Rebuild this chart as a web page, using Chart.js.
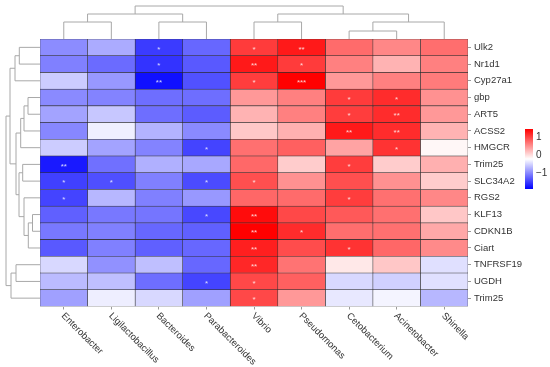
<!DOCTYPE html>
<html>
<head>
<meta charset="utf-8">
<script src="https://cdn.jsdelivr.net/npm/chart.js@4/dist/chart.umd.min.js"></script>
<style>
  html, body { margin: 0; padding: 0; background: #fff; }
  #wrap { width: 550px; height: 367px; position: relative; }
</style>
</head>
<body>
<div id="wrap"><canvas id="heatChart"></canvas></div>
<script>
// Heatmap of gene x genus correlations, with row / column dendrograms

const genes = ['Ulk2', 'Nr1d1', 'Cyp27a1', 'gbp', 'ART5', 'ACSS2', 'HMGCR', 'Trim25',
    'SLC34A2', 'RGS2', 'KLF13', 'CDKN1B', 'Ciart', 'TNFRSF19', 'UGDH', 'Trim25'];

const genera = ['Enterobacter', 'Ligilactobacillus', 'Bacteroides', 'Parabacteroides',
    'Vibrio', 'Pseudomonas', 'Cetobacterium', 'Acinetobacter', 'Shinella'];

// one row per gene, one value per genus
const corr = [
    [-0.94, -0.74, -1.46, -1.18, 1.06, 1.28, 0.75, 0.57, 0.73],
    [-1.02, -1.15, -1.51, -1.27, 1.28, 1.06, 0.62, 0.29, 0.62],
    [-0.53, -0.86, -1.74, -1.32, 1.05, 1.44, 0.46, 0.62, 0.65],
    [-0.95, -1.00, -1.13, -1.13, 0.46, 0.62, 1.06, 1.16, 0.51],
    [-0.79, -0.56, -1.13, -1.25, 0.29, 0.62, 1.05, 1.16, 0.46],
    [-0.97, -0.30, -0.69, -0.95, 0.16, 0.31, 1.28, 1.16, 0.29],
    [-0.53, -0.79, -1.00, -1.40, 0.72, 0.82, 0.39, 1.11, -0.15],
    [-1.68, -1.12, -0.71, -0.76, 0.77, 0.13, 1.05, 0.13, 0.31],
    [-1.43, -1.33, -1.02, -1.36, 0.93, 0.51, 0.93, 0.51, 0.13],
    [-1.40, -0.66, -1.02, -0.86, 0.78, 0.75, 1.05, 0.72, 0.57],
    [-1.22, -1.07, -1.09, -1.38, 1.36, 0.98, 0.87, 0.72, 0.16],
    [-1.07, -1.02, -1.18, -1.22, 1.44, 1.16, 0.73, 0.72, 0.36],
    [-1.27, -1.02, -1.22, -1.18, 1.24, 0.95, 1.11, 0.78, 0.55],
    [-0.45, -0.91, -0.61, -1.18, 1.19, 0.70, -0.05, 0.16, -0.40],
    [-0.64, -0.61, -1.13, -1.40, 0.98, 0.82, -0.45, -0.50, -0.40],
    [-0.81, -0.31, -0.45, -0.81, 0.98, 0.46, -0.35, -0.27, -0.66]
];

const stars = [
    ['', '', '*', '', '*', '**', '', '', ''],
    ['', '', '*', '', '**', '*', '', '', ''],
    ['', '', '**', '', '*', '***', '', '', ''],
    ['', '', '', '', '', '', '*', '*', ''],
    ['', '', '', '', '', '', '*', '**', ''],
    ['', '', '', '', '', '', '**', '**', ''],
    ['', '', '', '*', '', '', '', '*', ''],
    ['**', '', '', '', '', '', '*', '', ''],
    ['*', '*', '', '*', '*', '', '', '', ''],
    ['*', '', '', '', '', '', '*', '', ''],
    ['', '', '', '*', '**', '', '', '', ''],
    ['', '', '', '', '**', '*', '', '', ''],
    ['', '', '', '', '**', '', '*', '', ''],
    ['', '', '', '', '**', '', '', '', ''],
    ['', '', '', '*', '*', '', '', '', ''],
    ['', '', '', '', '*', '', '', '', '']
];

// colour range of the legend and its tick labels
const colorMin = -1.84;
const colorMax = 1.44;
const legendTicks = [1, 0, -1];

// hclust style merges: negative = leaf (1-based), positive = earlier merge; third = height
const colMerge = [
    [-7, -8, 8],
    [-1, -2, 17],
    [-3, -4, 17],
    [-5, -6, 17],
    [1, -9, 17],
    [2, 3, 25],
    [4, 5, 25],
    [6, 7, 33]
];

const rowMerge = [
    [-1, -2, 20.7],
    [1, -3, 25],
    [-4, -5, 12],
    [3, -6, 16],
    [4, -7, 19.3],
    [-8, -9, 17.3],
    [-11, -12, 7.5],
    [7, -13, 11.7],
    [-10, 8, 16],
    [6, 9, 21],
    [5, 10, 24],
    [2, 11, 30],
    [-14, -15, 24],
    [13, -16, 29],
    [12, 14, 34]
];

const labelFont = '9.5px "Liberation Sans", Arial, sans-serif';

function colorFor(v) {
    let t = (v - colorMin) / (colorMax - colorMin);
    t = Math.max(0, Math.min(1, t));
    if (t < 0.5) {
        const f = Math.round(255 * t / 0.5);
        return `rgb(${f}, ${f}, 255)`;
    }
    const f = Math.round(255 * (1 - (t - 0.5) / 0.5));
    return `rgb(255, ${f}, ${f})`;
}

function drawDendro(ctx, merges, leafPix, heightPix, horizontal) {
    const nodes = [];
    const get = (id) => id < 0 ? { pos: leafPix(-id - 1), h: 0 } : nodes[id - 1];
    const pt = (pos, h) => horizontal ? [pos, heightPix(h)] : [heightPix(h), pos];
    ctx.beginPath();
    merges.forEach(([a, b, h]) => {
        const na = get(a), nb = get(b);
        const p1 = pt(na.pos, na.h), p2 = pt(na.pos, h), p3 = pt(nb.pos, h), p4 = pt(nb.pos, nb.h);
        ctx.moveTo(p1[0], p1[1]);
        ctx.lineTo(p2[0], p2[1]);
        ctx.lineTo(p3[0], p3[1]);
        ctx.lineTo(p4[0], p4[1]);
        nodes.push({ pos: (na.pos + nb.pos) / 2, h: h });
    });
    ctx.stroke();
}

const heatExtras = {
    id: 'heatExtras',
    afterDatasetsDraw(chart) {
        const { ctx, chartArea, scales: { x, y } } = chart;
        ctx.save();

        // significance stars
        ctx.fillStyle = 'rgba(255, 255, 255, 0.8)';
        ctx.font = '8px "Liberation Sans", Arial, sans-serif';
        ctx.textAlign = 'center';
        ctx.textBaseline = 'middle';
        stars.forEach((row, r) => {
            row.forEach((s, c) => {
                if (s) ctx.fillText(s, x.getPixelForValue(c + 0.5), y.getPixelForValue(r) + 2);
            });
        });

        // dendrograms
        ctx.strokeStyle = '#a8a8a8';
        ctx.lineWidth = 1;
        const colMax = colMerge[colMerge.length - 1][2];
        const rowMax = rowMerge[rowMerge.length - 1][2];
        drawDendro(ctx, colMerge,
            (i) => x.getPixelForValue(i + 0.5),
            (h) => chartArea.top - h / colMax * (chartArea.top - 6),
            true);
        drawDendro(ctx, rowMerge,
            (i) => y.getPixelForValue(i),
            (h) => chartArea.left - h / rowMax * (chartArea.left - 6),
            false);

        // rotated genus labels
        ctx.fillStyle = '#333';
        ctx.font = labelFont;
        ctx.textAlign = 'left';
        ctx.textBaseline = 'middle';
        genera.forEach((g, c) => {
            ctx.save();
            ctx.translate(x.getPixelForValue(c + 0.5) - 1, chartArea.bottom + 8);
            ctx.rotate(Math.PI / 4);
            ctx.fillText(g, 0, 0);
            ctx.restore();
        });

        // colour legend
        const lx = 525, lw = 8, ltop = 129, lh = 60;
        const grad = ctx.createLinearGradient(0, ltop, 0, ltop + lh);
        grad.addColorStop(0, colorFor(colorMax));
        grad.addColorStop(0.5, colorFor((colorMax + colorMin) / 2));
        grad.addColorStop(1, colorFor(colorMin));
        ctx.fillStyle = grad;
        ctx.fillRect(lx, ltop, lw, lh);
        ctx.fillStyle = '#333';
        ctx.font = '10px "Liberation Sans", Arial, sans-serif';
        legendTicks.forEach(v => {
            const ly = ltop + (colorMax - v) / (colorMax - colorMin) * lh;
            ctx.fillText(v < 0 ? '\u2212' + Math.abs(v) : String(v), lx + lw + 3, ly);
        });

        ctx.restore();
    }
};

const datasets = genera.map((g, c) => ({
    label: g,
    data: genes.map(() => [c, c + 1]),
    backgroundColor: genes.map((_, r) => colorFor(corr[r][c])),
    borderColor: 'rgba(30, 30, 30, 0.85)',
    borderWidth: 0.6,
    borderSkipped: false,
    grouped: false,
    categoryPercentage: 1,
    barPercentage: 1
}));

new Chart(document.getElementById('heatChart'), {
    type: 'bar',
    data: { labels: genes, datasets: datasets },
    options: {
        indexAxis: 'y',
        responsive: true,
        maintainAspectRatio: false,
        animation: false,
        layout: { padding: { left: 40, top: 39, right: 0, bottom: 0 } },
        plugins: {
            legend: { display: false },
            tooltip: { enabled: false }
        },
        scales: {
            x: {
                type: 'linear',
                min: 0,
                max: genera.length,
                afterBuildTicks: (scale) => {
                    scale.ticks = genera.map((_, i) => ({ value: i + 0.5 }));
                },
                afterFit: (scale) => { scale.height = 60.5; },
                ticks: { display: false },
                grid: { drawOnChartArea: false, drawTicks: true, tickLength: 3, color: '#999' },
                border: { display: false }
            },
            y: {
                type: 'category',
                position: 'right',
                afterFit: (scale) => { scale.width = 82; },
                ticks: {
                    color: '#333',
                    padding: 3,
                    font: { family: '"Liberation Sans", Arial, sans-serif', size: 9.5 }
                },
                grid: { offset: false, drawOnChartArea: false, drawTicks: true, tickLength: 3, color: '#999' },
                border: { display: false }
            }
        }
    },
    plugins: [heatExtras]
});
</script>
</body>
</html>
